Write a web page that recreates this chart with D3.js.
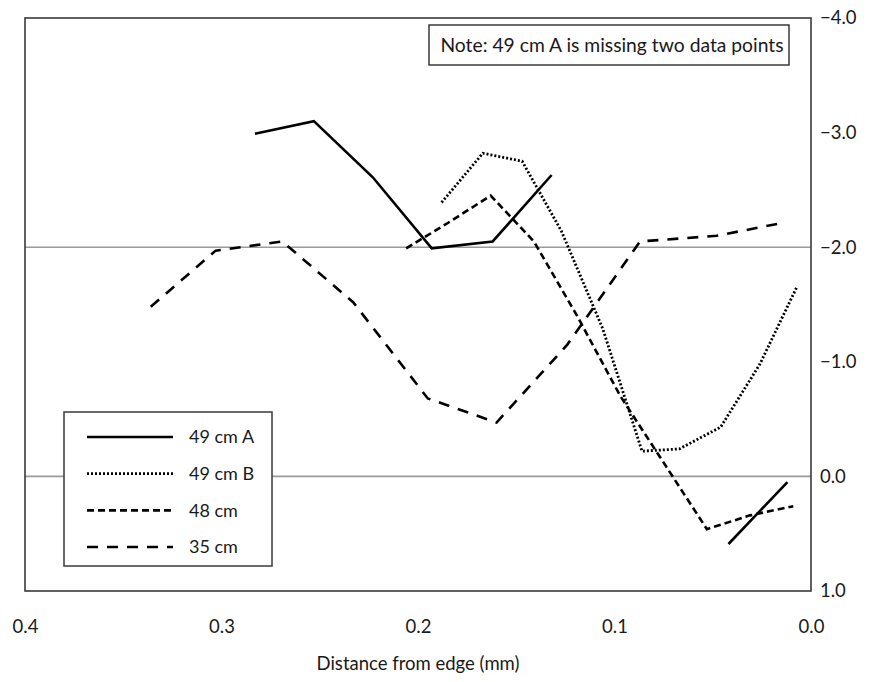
<!DOCTYPE html>
<html>
<head>
<meta charset="utf-8">
<script src="https://cdn.jsdelivr.net/npm/d3@7"></script>
<style>
  body { margin: 0; background: #fff; }
  text { font-family: Lato, "Open Sans", sans-serif; fill: #1a1a1a; }
</style>
</head>
<body>
<svg id="chart" width="869" height="682"></svg>
<script>
// ---------------- data ----------------
const seriesNames = ["49 cm A", "49 cm B", "48 cm", "35 cm"];

const x49A = [0.283, 0.253, 0.223, 0.193, 0.162, 0.132, 0.102, 0.072, 0.042, 0.012];
const y49A = [-2.99, -3.10, -2.61, -1.99, -2.05, -2.63, null, null, 0.59, 0.05];

const x49B = [0.188, 0.167, 0.147, 0.127, 0.106, 0.086, 0.067, 0.046, 0.026, 0.007];
const y49B = [-2.39, -2.82, -2.75, -2.14, -1.29, -0.22, -0.24, -0.43, -0.98, -1.66];

const x48 = [0.206, 0.184, 0.163, 0.141, 0.119, 0.097, 0.075, 0.053, 0.031, 0.009];
const y48 = [-1.99, -2.22, -2.45, -2.05, -1.40, -0.70, -0.12, 0.46, 0.34, 0.26];

const x35 = [0.336, 0.303, 0.269, 0.233, 0.195, 0.160, 0.124, 0.087, 0.048, 0.015];
const y35 = [-1.48, -1.97, -2.05, -1.52, -0.68, -0.47, -1.15, -2.05, -2.10, -2.21];

const xTicks = [0.4, 0.3, 0.2, 0.1, 0.0];
const yTicks = [-4, -3, -2, -1, 0, 1];
const gridValues = [-2, 0];
const xTitle = "Distance from edge (mm)";
const noteText = "Note: 49 cm A is missing two data points";

// ---------------- layout ----------------
const L = 25, R = 811, T = 18, B = 591;
const svg = d3.select("#chart");

const x = d3.scaleLinear().domain([0.4, 0.0]).range([L, R]);
const y = d3.scaleLinear().domain([-4, 1]).range([T, B]);

// gridlines
svg.append("g").selectAll("line").data(gridValues).join("line")
  .attr("x1", L).attr("x2", R)
  .attr("y1", d => y(d)).attr("y2", d => y(d))
  .attr("stroke", "#9a9a9a").attr("stroke-width", 1.6);

// plot box
svg.append("rect").attr("x", L).attr("y", T)
  .attr("width", R - L).attr("height", B - T)
  .attr("fill", "none").attr("stroke", "#3a3a3a").attr("stroke-width", 1.6);

// x axis
const xAxis = d3.axisBottom(x).tickValues(xTicks).tickFormat(d3.format(".1f"))
  .tickSize(0).tickPadding(29);
const gx = svg.append("g").attr("transform", `translate(0,${B})`).call(xAxis);
gx.select(".domain").remove();
gx.selectAll("text").style("font-size", "18.5px").attr("fill", "#1a1a1a")
  .style("font-family", "Lato, 'Open Sans', sans-serif");

// y axis (right)
const yAxis = d3.axisRight(y).tickValues(yTicks).tickFormat(d3.format(".1f"))
  .tickSize(0).tickPadding(9);
const gy = svg.append("g").attr("transform", `translate(${R},0)`).call(yAxis);
gy.select(".domain").remove();
gy.selectAll("text").style("font-size", "18.5px").attr("fill", "#1a1a1a")
  .style("font-family", "Lato, 'Open Sans', sans-serif");

// x title
svg.append("text").attr("x", (L + R) / 2).attr("y", 670)
  .attr("text-anchor", "middle").style("font-size", "18.5px").text(xTitle);

// ---------------- series ----------------
const styles = [
  { dash: null, width: 2.6 },
  { dash: "2,2", width: 2.8 },
  { dash: "7,4", width: 2.6 },
  { dash: "11,9", width: 2.6 }
];
const xs = [x49A, x49B, x48, x35];
const ys = [y49A, y49B, y48, y35];

const line = d3.line()
  .defined(d => d[1] !== null)
  .x(d => x(d[0])).y(d => y(d[1]));

seriesNames.forEach((name, i) => {
  const pts = xs[i].map((v, j) => [v, ys[i][j]]);
  svg.append("path").datum(pts)
    .attr("d", line)
    .attr("fill", "none")
    .attr("stroke", "#000")
    .attr("stroke-width", styles[i].width)
    .attr("stroke-linejoin", "miter")
    .attr("stroke-dasharray", styles[i].dash);
});

// ---------------- note box ----------------
svg.append("rect").attr("x", 429).attr("y", 25).attr("width", 360).attr("height", 40)
  .attr("fill", "#fff").attr("stroke", "#3a3a3a").attr("stroke-width", 1.5);
svg.append("text").attr("x", 612).attr("y", 52).attr("text-anchor", "middle")
  .style("font-size", "19.3px").text(noteText);

// ---------------- legend ----------------
const lg = svg.append("g");
lg.append("rect").attr("x", 64).attr("y", 412).attr("width", 208).attr("height", 154)
  .attr("fill", "#fff").attr("stroke", "#3a3a3a").attr("stroke-width", 1.5);
const legY = d3.scalePoint().domain(seriesNames).range([437, 547]);
seriesNames.forEach((name, i) => {
  lg.append("line").attr("x1", 87).attr("x2", 173)
    .attr("y1", legY(name)).attr("y2", legY(name))
    .attr("stroke", "#000").attr("stroke-width", styles[i].width)
    .attr("stroke-dasharray", styles[i].dash);
  lg.append("text").attr("x", 189).attr("y", legY(name)).attr("dy", "0.35em")
    .style("font-size", "18px").text(name);
});
</script>
</body>
</html>
